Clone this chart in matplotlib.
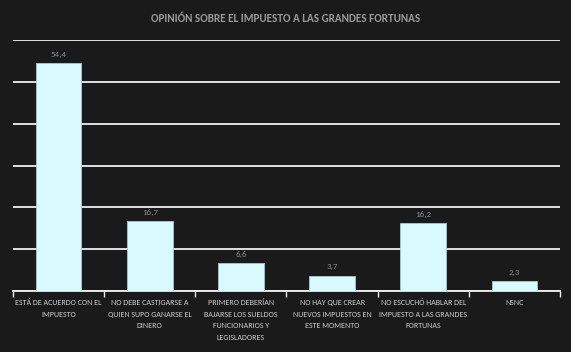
import matplotlib
matplotlib.use("Agg")
import matplotlib.pyplot as plt

categories = [
    "ESTÁ DE ACUERDO CON EL\nIMPUESTO",
    "NO DEBE CASTIGARSE A\nQUIEN SUPO GANARSE EL\nDINERO",
    "PRIMERO DEBERÍAN\nBAJARSE LOS SUELDOS\nFUNCIONARIOS Y\nLEGISLADORES",
    "NO HAY QUE CREAR\nNUEVOS IMPUESTOS EN\nESTE MOMENTO",
    "NO ESCUCHÓ HABLAR DEL\nIMPUESTO A LAS GRANDES\nFORTUNAS",
    "NSNC",
]
values = [54.4, 16.7, 6.6, 3.7, 16.2, 2.3]
value_labels = ["54,4", "16,7", "6,6", "3,7", "16,2", "2,3"]
title = "OPINIÓN SOBRE EL IMPUESTO A LAS GRANDES FORTUNAS"

plt.rcParams['font.family'] = ['Carlito', 'Liberation Sans Narrow', 'Roboto Condensed', 'DejaVu Sans']

bg = "#1b1a1a"
fig = plt.figure(figsize=(5.71, 3.52), dpi=100, facecolor=bg)
ax = fig.add_axes([13 / 571, 61 / 352, 547 / 571, 251 / 352])
ax.set_facecolor(bg)

x = list(range(len(values)))
ax.bar(x, values, width=0.5, color="#d9fbff", edgecolor="#a9c8d8", linewidth=0.6, zorder=3)
ax.set_xlim(-0.5, len(values) - 0.5)
ax.set_ylim(0, 60)
ax.set_yticks(range(0, 61, 10))
ax.yaxis.grid(True, color="#f0f0f0", linewidth=1.3, zorder=0)
ax.tick_params(axis="y", left=False, labelleft=False)
for s in ["left", "right", "top"]:
    ax.spines[s].set_visible(False)
ax.spines["bottom"].set_color("#f0f0f0")
ax.spines["bottom"].set_linewidth(1.3)

ax.set_xticks([i - 0.5 for i in range(len(values) + 1)])
ax.set_xticklabels([])
ax.tick_params(axis="x", direction="out", length=4, color="#f0f0f0", width=1)
for i, c in enumerate(categories):
    ax.text(i, -2.0, c, ha="center", va="top", fontsize=5.8, color="#cdcdcd",
            linespacing=1.75)

for i, (v, lab) in enumerate(zip(values, value_labels)):
    ax.annotate(lab, (i, v), xytext=(0, 4), textcoords="offset points",
                ha="center", va="bottom", fontsize=6.5, color="#8a8a8a")

fig.text(0.5, 1 - 18 / 352, title, ha="center", va="center", fontsize=8, fontweight="bold",
         color="#9a9a9a")

fig.savefig("out.png", dpi=100, facecolor=bg)
